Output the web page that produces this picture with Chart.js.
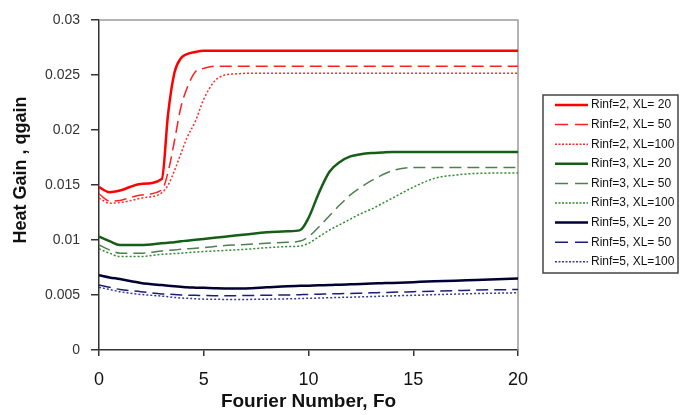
<!DOCTYPE html>
<html>
<head>
<meta charset="utf-8">
<script src="https://cdn.jsdelivr.net/npm/chart.js@4/dist/chart.umd.min.js"></script>
<style>
  body { margin: 0; background: #fff; }
  #wrap { width: 686px; height: 415px; position: relative; }
</style>
</head>
<body>
<div id="wrap"><canvas id="heatChart"></canvas></div>
<script>
// Fourier number samples shared by every curve
const fo = [0, 0.5, 1, 2, 3, 3.3, 3.6, 3.9, 4.2, 4.6, 5, 5.5, 6, 6.5, 7, 8, 9, 9.6, 10, 10.5, 11, 11.5, 12, 12.5, 13, 13.5, 14, 15, 16, 17, 18, 20];

const xTicks = [0, 5, 10, 15, 20];
const yTicks = [0, 0.005, 0.01, 0.015, 0.02, 0.025, 0.03];

const seriesLabels = [
    'Rinf=2, XL= 20', 'Rinf=2, XL= 50', 'Rinf=2, XL=100',
    'Rinf=3, XL= 20', 'Rinf=3, XL= 50', 'Rinf=3, XL=100',
    'Rinf=5, XL= 20', 'Rinf=5, XL= 50', 'Rinf=5, XL=100'
];

const rinf2xl20 = [0.0148, 0.01435, 0.0145, 0.0151, 0.01555, 0.0215, 0.0252, 0.0265, 0.0269, 0.0271, 0.0272, 0.0272, 0.0272, 0.0272, 0.0272, 0.0272, 0.0272, 0.0272, 0.0272, 0.0272, 0.0272, 0.0272, 0.0272, 0.0272, 0.0272, 0.0272, 0.0272, 0.0272, 0.0272, 0.0272, 0.0272, 0.0272];
const rinf2xl50 = [0.0142, 0.01355, 0.0136, 0.0141, 0.01455, 0.0162, 0.0190, 0.0220, 0.0238, 0.0253, 0.0256, 0.0258, 0.0258, 0.0258, 0.0258, 0.0258, 0.0258, 0.0258, 0.0258, 0.0258, 0.0258, 0.0258, 0.0258, 0.0258, 0.0258, 0.0258, 0.0258, 0.0258, 0.0258, 0.0258, 0.0258, 0.0258];
const rinf2xl100 = [0.0138, 0.01335, 0.0134, 0.0138, 0.0143, 0.0150, 0.0163, 0.0178, 0.0193, 0.0208, 0.0228, 0.0244, 0.0250, 0.0251, 0.02515, 0.02515, 0.02515, 0.02515, 0.02515, 0.02515, 0.02515, 0.02515, 0.02515, 0.02515, 0.02515, 0.02515, 0.02515, 0.02515, 0.02515, 0.02515, 0.02515, 0.02515];

const rinf3xl20 = [0.0103, 0.0099, 0.00955, 0.00955, 0.0097, 0.00975, 0.0098, 0.00988, 0.00994, 0.01002, 0.0101, 0.0102, 0.0103, 0.0104, 0.0105, 0.0107, 0.0108, 0.0109, 0.0120, 0.0143, 0.0162, 0.0171, 0.0176, 0.0178, 0.0179, 0.01795, 0.0180, 0.0180, 0.0180, 0.0180, 0.0180, 0.0180];
const rinf3xl50 = [0.00955, 0.0091, 0.0088, 0.0088, 0.0090, 0.00905, 0.0091, 0.00915, 0.0092, 0.00925, 0.0093, 0.0094, 0.0095, 0.00955, 0.0096, 0.0097, 0.0098, 0.0099, 0.0103, 0.0112, 0.0122, 0.0132, 0.0141, 0.0148, 0.0154, 0.0159, 0.0163, 0.0166, 0.0166, 0.0166, 0.0166, 0.0166];
const rinf3xl100 = [0.0092, 0.0088, 0.0085, 0.0085, 0.0087, 0.00873, 0.00877, 0.0088, 0.00885, 0.0089, 0.00895, 0.0090, 0.00905, 0.0091, 0.00915, 0.0093, 0.0094, 0.00945, 0.0097, 0.0103, 0.0109, 0.0114, 0.0119, 0.0124, 0.0128, 0.0133, 0.0138, 0.0148, 0.0156, 0.0159, 0.01605, 0.0161];

const rinf5xl20 = [0.0068, 0.0066, 0.00645, 0.0061, 0.0059, 0.00585, 0.0058, 0.00575, 0.0057, 0.00567, 0.00565, 0.00562, 0.0056, 0.0056, 0.0056, 0.0057, 0.0058, 0.00583, 0.00585, 0.00588, 0.0059, 0.00594, 0.00597, 0.006, 0.00604, 0.00607, 0.0061, 0.00617, 0.00624, 0.0063, 0.00637, 0.0065];
const rinf5xl50 = [0.0059, 0.0057, 0.0055, 0.0053, 0.0051, 0.00507, 0.00504, 0.00501, 0.00498, 0.00497, 0.00495, 0.00494, 0.00494, 0.00494, 0.00495, 0.00498, 0.0050, 0.00503, 0.00505, 0.00507, 0.0051, 0.00512, 0.00514, 0.00517, 0.0052, 0.00522, 0.00525, 0.0053, 0.00535, 0.0054, 0.00545, 0.0055];
const rinf5xl100 = [0.0057, 0.0055, 0.0053, 0.00505, 0.0049, 0.00484, 0.00478, 0.00473, 0.0047, 0.00466, 0.00462, 0.00461, 0.0046, 0.0046, 0.0046, 0.00462, 0.00465, 0.00468, 0.0047, 0.00472, 0.00475, 0.00478, 0.0048, 0.00483, 0.00486, 0.00489, 0.00492, 0.00497, 0.00503, 0.00508, 0.00513, 0.0052];

const seriesValues = [rinf2xl20, rinf2xl50, rinf2xl100, rinf3xl20, rinf3xl50, rinf3xl100, rinf5xl20, rinf5xl50, rinf5xl100];

const colors = ['#ff0000', '#ff2020', '#ff2a2a', '#165e16', '#4f7f4f', '#2e8b2e', '#000033', '#1c1c7a', '#3a3a8a'];
const widths = [2.5, 1.5, 1.5, 2.5, 1.5, 1.5, 2.5, 1.5, 1.5];
const dashes = [[], [12, 6], [2, 2]];
const legendDashes = [[], [13, 7], [2, 1.5]];

const datasets = seriesLabels.map((label, i) => ({
    label: label,
    data: fo.map((x, j) => ({ x: x, y: seriesValues[i][j] })),
    borderColor: colors[i],
    borderWidth: widths[i],
    borderDash: dashes[i % 3],
    pointRadius: 0,
    fill: false,
    cubicInterpolationMode: 'monotone'
}));

// grey frame on the top and right of the plot
const framePlugin = {
    id: 'frame',
    beforeDatasetsDraw(chart) {
        const { ctx, chartArea: a } = chart;
        ctx.save();
        ctx.strokeStyle = '#9a9a9a';
        ctx.lineWidth = 1.5;
        ctx.beginPath();
        ctx.moveTo(a.left, a.top);
        ctx.lineTo(a.right, a.top);
        ctx.lineTo(a.right, a.bottom);
        ctx.stroke();
        ctx.restore();
    }
};

const yTitlePlugin = {
    id: 'yTitle',
    afterDraw(chart) {
        const ctx = chart.ctx;
        ctx.save();
        ctx.translate(21, 170);
        ctx.rotate(-Math.PI / 2);
        ctx.font = 'bold 18px Arial, "Liberation Sans", sans-serif';
        ctx.fillStyle = '#111';
        ctx.textAlign = 'center';
        ctx.textBaseline = 'middle';
        ctx.fillText('Heat Gain , qgain', 0, 0);
        ctx.restore();
    }
};

// boxed legend drawn from the dataset styles
const boxLegendPlugin = {
    id: 'boxLegend',
    afterDraw(chart) {
        const ctx = chart.ctx;
        const left = 543, top = 95, w = 135, h = 178;
        ctx.save();
        ctx.strokeStyle = '#444';
        ctx.lineWidth = 1.5;
        ctx.strokeRect(left, top, w, h);
        ctx.font = '12px Arial, "Liberation Sans", sans-serif';
        ctx.fillStyle = '#111';
        ctx.textBaseline = 'middle';
        chart.data.datasets.forEach((ds, i) => {
            const y = 105 + i * 19.6;
            ctx.strokeStyle = ds.borderColor;
            ctx.lineWidth = ds.borderWidth;
            ctx.setLineDash(legendDashes[i % 3]);
            ctx.beginPath();
            ctx.moveTo(555, y);
            ctx.lineTo(588, y);
            ctx.stroke();
            ctx.setLineDash([]);
            ctx.fillText(ds.label, 591, y);
        });
        ctx.restore();
    }
};

new Chart(document.getElementById('heatChart'), {
    type: 'line',
    data: { datasets: datasets },
    plugins: [framePlugin, yTitlePlugin, boxLegendPlugin],
    options: {
        responsive: true,
        maintainAspectRatio: false,
        animation: false,
        layout: { padding: { top: 20, right: 168, left: 0, bottom: 0 } },
        plugins: { legend: { display: false }, tooltip: { enabled: false } },
        scales: {
            x: {
                type: 'linear',
                min: xTicks[0],
                max: xTicks[xTicks.length - 1],
                afterBuildTicks: (scale) => { scale.ticks = xTicks.map(v => ({ value: v })); },
                afterFit: (scale) => { scale.height = 65; },
                grid: { drawOnChartArea: false, tickLength: 6, color: '#333', lineWidth: 1.5 },
                border: { color: '#333', width: 1.5 },
                ticks: {
                    padding: 13,
                    color: '#111',
                    font: { family: 'Arial, "Liberation Sans", sans-serif', size: 18 }
                },
                title: {
                    display: true,
                    text: 'Fourier Number, Fo',
                    color: '#111',
                    padding: { top: 0, bottom: 2 },
                    font: { family: 'Arial, "Liberation Sans", sans-serif', size: 19, weight: 'bold' }
                }
            },
            y: {
                min: yTicks[0],
                max: yTicks[yTicks.length - 1],
                afterBuildTicks: (scale) => { scale.ticks = yTicks.map(v => ({ value: v })); },
                afterFit: (scale) => { scale.width = 99; },
                grid: { drawOnChartArea: false, tickLength: 8, color: '#333', lineWidth: 1.5 },
                border: { color: '#333', width: 1.5 },
                ticks: {
                    padding: 11,
                    color: '#333',
                    font: { family: 'Arial, "Liberation Sans", sans-serif', size: 14 },
                    callback: (v) => String(parseFloat(Number(v).toFixed(3)))
                }
            }
        }
    }
});
</script>
</body>
</html>
